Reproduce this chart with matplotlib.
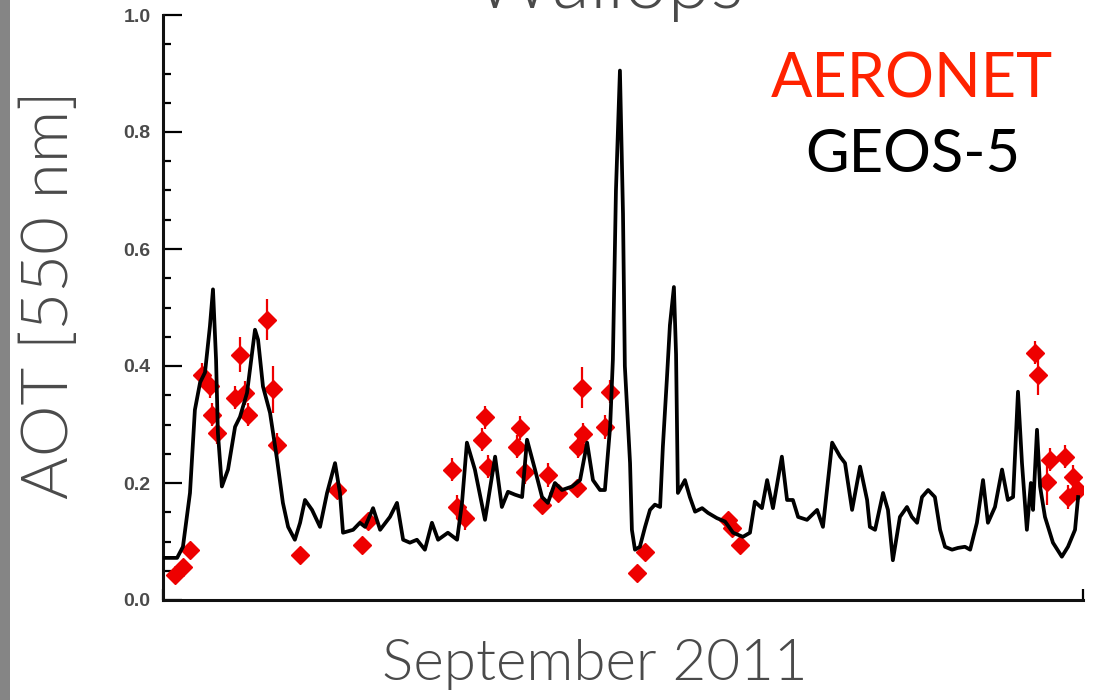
import matplotlib
matplotlib.use("Agg")
import matplotlib.pyplot as plt
from matplotlib.patches import Rectangle

# GEOS-5 model AOT, day of September 2011 (0 = Sep 1 00Z)
geos_day = [0.07, 0.46, 0.65, 0.88, 1.04, 1.21, 1.37, 1.53, 1.63, 1.73, 1.79, 1.92,
            2.12, 2.35, 2.51, 2.74, 3.00, 3.10, 3.26, 3.49, 3.72, 3.91, 4.08, 4.30,
            4.47, 4.63, 4.86, 5.12, 5.35, 5.61, 5.77, 5.87, 6.20, 6.42, 6.59, 6.85,
            7.08, 7.40, 7.63, 7.83, 8.05, 8.28, 8.54, 8.77, 8.97, 9.29, 9.59, 9.75,
            9.91, 10.17, 10.50, 10.83, 11.05, 11.25, 11.48, 11.71, 11.87, 12.13, 12.36,
            12.55, 12.78, 13.01, 13.34, 13.60, 13.83, 14.02, 14.25, 14.41, 14.58, 14.67,
            14.77, 14.90, 15.00, 15.06, 15.23, 15.29, 15.39, 15.55, 15.72, 15.88, 16.04,
            16.21, 16.30, 16.43, 16.53, 16.66, 16.73, 16.79, 17.02, 17.18, 17.35, 17.58,
            17.77, 18.06, 18.33, 18.59, 18.91, 19.14, 19.30, 19.53, 19.70, 19.89, 20.18,
            20.35, 20.54, 20.71, 21.00, 21.33, 21.52, 21.82, 22.08, 22.24, 22.47, 22.73,
            22.96, 23.05, 23.22, 23.48, 23.64, 23.80, 24.03, 24.26, 24.42, 24.59, 24.75,
            24.95, 25.17, 25.34, 25.50, 25.73, 25.92, 26.15, 26.32, 26.54, 26.74, 26.90,
            27.13, 27.36, 27.55, 27.72, 27.88, 28.01, 28.17, 28.30, 28.37, 28.50, 28.60,
            28.76, 29.02, 29.31, 29.51, 29.74, 29.84]
geos_aot = [0.072, 0.072, 0.091, 0.183, 0.325, 0.372, 0.389, 0.468, 0.531, 0.411, 0.286, 0.194,
            0.223, 0.296, 0.313, 0.354, 0.462, 0.445, 0.365, 0.320, 0.240, 0.166, 0.125, 0.103,
            0.132, 0.171, 0.154, 0.125, 0.183, 0.234, 0.183, 0.115, 0.120, 0.132, 0.125, 0.157,
            0.120, 0.142, 0.166, 0.103, 0.098, 0.103, 0.086, 0.132, 0.103, 0.115, 0.103, 0.166,
            0.269, 0.223, 0.137, 0.245, 0.159, 0.185, 0.180, 0.176, 0.274, 0.223, 0.176,
            0.166, 0.200, 0.188, 0.194, 0.205, 0.269, 0.205, 0.188, 0.188, 0.296, 0.411,
            0.700, 0.905, 0.660, 0.400, 0.234, 0.120, 0.086, 0.091, 0.125, 0.154, 0.163,
            0.159, 0.262, 0.377, 0.470, 0.535, 0.420, 0.183, 0.205, 0.176, 0.151, 0.157,
            0.149, 0.140, 0.134, 0.115, 0.108, 0.115, 0.168, 0.157, 0.205, 0.157, 0.245,
            0.171, 0.171, 0.142, 0.137, 0.154, 0.125, 0.269, 0.245, 0.234, 0.154, 0.228,
            0.171, 0.125, 0.120, 0.183, 0.154, 0.068, 0.142, 0.159, 0.142, 0.132, 0.176,
            0.188, 0.176, 0.120, 0.091, 0.086, 0.089, 0.091, 0.086, 0.132, 0.205, 0.132,
            0.159, 0.223, 0.171, 0.176, 0.356, 0.234, 0.120, 0.200, 0.154, 0.291, 0.194,
            0.142, 0.098, 0.074, 0.091, 0.120, 0.176]

# AERONET observations
aero_day = [0.39, 0.65, 0.88, 1.27, 1.53, 1.60, 1.76, 2.35, 2.51, 2.67, 2.77, 3.39,
            3.59, 3.72, 4.47, 5.67, 6.49, 6.68, 9.42, 9.59, 9.85, 10.40, 10.50, 10.60,
            11.54, 11.64, 11.80, 12.36, 12.55, 12.88, 13.50, 13.53, 13.70, 13.66, 14.41,
            14.58, 15.46, 15.72, 18.42, 18.55, 18.82, 28.43, 28.53, 28.83, 28.92, 29.41,
            29.51, 29.67, 29.84]
aero_aot = [0.043, 0.057, 0.086, 0.385, 0.365, 0.317, 0.286, 0.346, 0.419, 0.354, 0.317, 0.479,
            0.360, 0.265, 0.077, 0.188, 0.094, 0.135, 0.223, 0.159, 0.140, 0.274, 0.312, 0.228,
            0.262, 0.294, 0.219, 0.163, 0.214, 0.183, 0.192, 0.262, 0.283, 0.363, 0.296,
            0.356, 0.046, 0.082, 0.137, 0.123, 0.094, 0.423, 0.385, 0.202, 0.240, 0.245,
            0.176, 0.211, 0.188]
aero_err = [0.01, 0.01, 0.01, 0.02, 0.02, 0.02, 0.02, 0.02, 0.03, 0.02, 0.02, 0.035,
            0.04, 0.02, 0.01, 0.01, 0.01, 0.01, 0.02, 0.02, 0.02, 0.02, 0.02, 0.02,
            0.02, 0.02, 0.02, 0.01, 0.02, 0.01, 0.01, 0.02, 0.02, 0.035, 0.02,
            0.02, 0.01, 0.01, 0.01, 0.01, 0.01, 0.02, 0.035, 0.04, 0.02, 0.02,
            0.02, 0.02, 0.02]

y_ticks = [0.0, 0.2, 0.4, 0.6, 0.8, 1.0]

W, H = 1095, 700
fig = plt.figure(figsize=(W / 100, H / 100), dpi=100)
fig.patch.set_facecolor("white")

# gray strip on the left edge
fig.patches.append(Rectangle((0, 0), 10 / W, 1, transform=fig.transFigure,
                             facecolor="#858585", edgecolor="none"))

ax = fig.add_axes([163 / W, 100 / H, 920 / W, 585 / H])
ax.errorbar(aero_day, aero_aot, yerr=aero_err, fmt="D", color="#ee0000",
            markersize=9.5, elinewidth=1.6, capsize=0, zorder=2)
ax.plot(geos_day, geos_aot, color="black", linewidth=2.7, zorder=3)

ax.set_xlim(0, 30)
ax.set_ylim(0, 1.0)
for s in ["top", "right"]:
    ax.spines[s].set_visible(False)
for s in ["left", "bottom"]:
    ax.spines[s].set_linewidth(2.2)
    ax.spines[s].set_color("#111111")

ax.set_yticks(y_ticks)
ax.set_yticklabels([f"{v:.1f}" for v in y_ticks])
ax.set_yticks([i * 0.05 for i in range(21)], minor=True)
ax.tick_params(axis="y", which="major", direction="in", length=14, width=1.6,
               pad=9, labelsize=14, labelcolor="#4a4a4a")
ax.tick_params(axis="y", which="minor", direction="in", length=6, width=1.6)
ax.set_xticks([0, 30])
ax.set_xticklabels([])
ax.tick_params(axis="x", which="major", direction="in", length=8, width=1.6)
for lab in ax.get_yticklabels():
    lab.set_family("Liberation Sans")
    lab.set_fontweight("bold")

thin = dict(family="Lato", fontweight=300, color="#4a4a4a")
fig.text(50 / W, 1 - 295 / H, "AOT [550 nm]", rotation=90, ha="center", va="center",
         fontsize=47, **thin)
fig.text(595 / W, 1 - 665 / H, "September 2011", ha="center", va="center",
         fontsize=42, **thin)
# title sits mostly above the visible canvas, as in the reference
fig.text(608 / W, 1 - 8 / H, "Wallops", ha="center", va="baseline",
         fontsize=56, **thin)

fig.text(912 / W, 1 - 80 / H, "AERONET", ha="center", va="center",
         fontsize=44, color="#ff2200", family="Lato")
fig.text(913 / W, 1 - 155 / H, "GEOS-5", ha="center", va="center",
         fontsize=43, color="black", family="Lato")

fig.savefig("out.png", dpi=100)
